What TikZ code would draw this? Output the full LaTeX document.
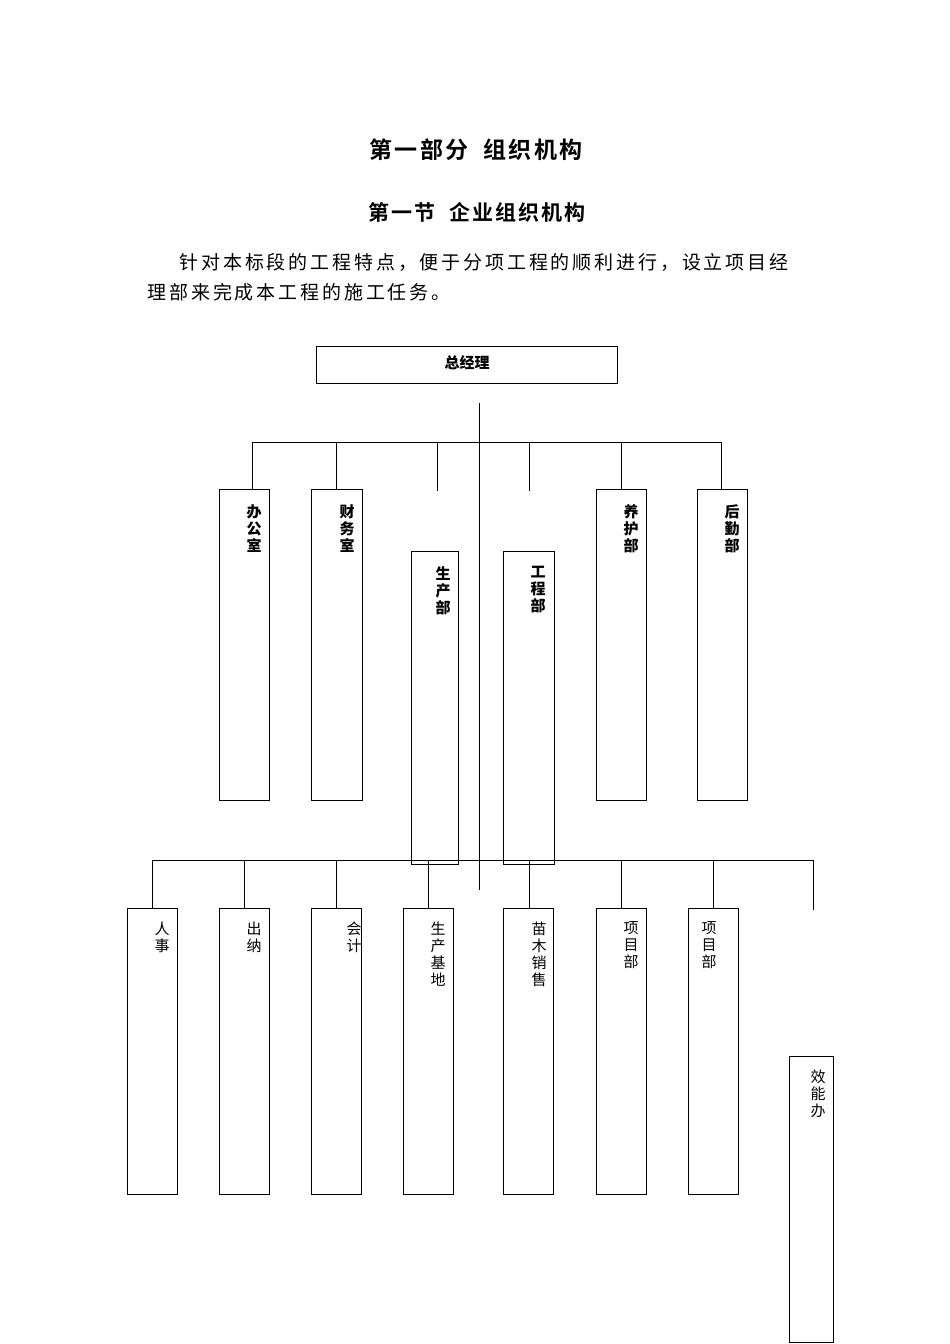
\documentclass[tikz,border=0pt]{standalone}
\usepackage{fontspec}
\setmainfont{Noto Sans CJK SC}
\newfontfamily\spaced[LetterSpace=15]{Noto Sans CJK SC}
\newfontfamily\spacedb[LetterSpace=10]{Noto Sans CJK SC Bold}
\begin{document}
\begin{tikzpicture}[x=1pt,y=-1pt,
  bx/.style={draw,line width=0.8pt,inner sep=0pt,anchor=north west},
  ln/.style={line width=0.8pt},
  vt/.style={align=center,font=\fontsize{15}{17}\selectfont,anchor=north},
  vtb/.style={vt,font=\fontsize{15}{17}\selectfont\bfseries}]
\useasboundingbox (0,0) rectangle (950,1344);
\node[font=\fontsize{23}{26}\spacedb] (t1) at (476,150) {第一部分\ \ 组织机构};
\node[font=\fontsize{21}{24}\spacedb] (t2) at (477,212) {第一节\ \ 企业组织机构};
\node[font=\fontsize{19}{20}\spaced,anchor=west] (p1) at (176,262) {针对本标段的工程特点，便于分项工程的顺利进行，设立项目经};
\node[font=\fontsize{19}{20}\spaced,anchor=west] (p2) at (144,292) {理部来完成本工程的施工任务。};
\node[bx,minimum width=301,minimum height=37] (gm) at (316,346) {};
\node[font=\fontsize{15}{17}\selectfont\bfseries] at (467,363) {总经理};
\coordinate (vtop) at (479,403);
\coordinate (vbot) at (479,890);
\draw[ln] (vtop) -- (vbot);
\draw[ln] (252,442) -- (721,442);
\foreach \n/\x/\y/\w/\t/\tx in {a/219/489/50/办\\公\\室/254, b/311/489/51/财\\务\\室/347, c/411/551/47/生\\产\\部/443, d/503/551/51/工\\程\\部/538, e/596/489/50/养\\护\\部/631, f/697/489/50/后\\勤\\部/732}{
  \pgfmathsetmacro\h{\y==489 ? 311 : 313}
  \node[bx,minimum width=\w,minimum height=\h] (\n) at (\x,\y) {};
  \node[vtb] at (\tx,\y+12) {\t};
}
\foreach \x in {252,336,621,721}{\draw[ln] (\x,442) -- (\x,489);}
\draw[ln] (437,442) -- (437,491);
\draw[ln] (529,442) -- (529,491);
\draw[ln] (152,860) -- (813,860);
\foreach \n/\x/\t/\tx/\dx in {g/127/人\\事/162/152, h/219/出\\纳/254/244, i/311/会\\计/354/336, j/403/生\\产\\基\\地/438/428, k/503/苗\\木\\销\\售/539/529, l/596/项\\目\\部/631/621, m/688/项\\目\\部/709/713}{
  \node[bx,minimum width=50,minimum height=286] (\n) at (\x,908) {};
  \node[vt] at (\tx,918) {\t};
  \draw[ln] (\dx,860) -- (\dx,908);
}
\node[bx,minimum width=44,minimum height=286] (o) at (789,1056) {};
\node[vt] at (818,1066) {效\\能\\办};
\draw[ln] (813,860) -- (813,910);
\end{tikzpicture}
\end{document}
